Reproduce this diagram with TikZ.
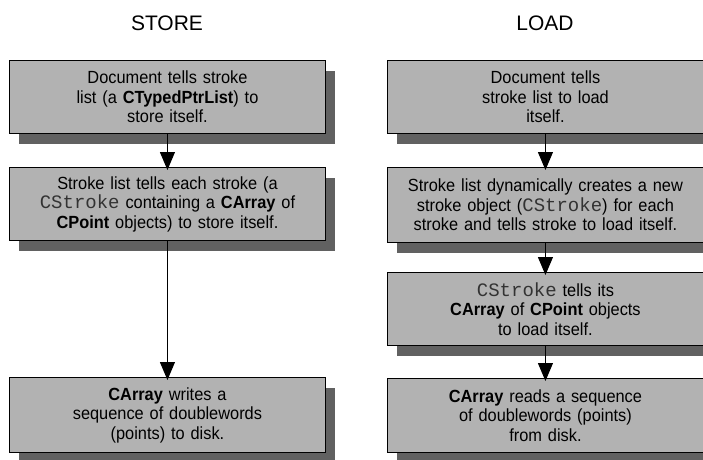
\documentclass[tikz,border=0pt]{standalone}
\usepackage{fontspec}
\setmainfont{Liberation Sans}
\newfontfamily\bodyfont[FakeStretch=0.93]{Liberation Sans}
\newfontfamily\cmono{Liberation Mono}
\usetikzlibrary{arrows.meta,shadows}
\newcommand\cs[1]{{\cmono\fontsize{19}{19.5}\selectfont\color{black!80}#1}}
\begin{document}
\begin{tikzpicture}[x=1pt,y=-1pt,
  stepbox/.style={draw=black,line width=0.9pt,fill=black!30,
    minimum width=316pt,minimum height=73pt,inner sep=0pt,
    text width=306pt,align=center,anchor=north west,
    font=\bodyfont\fontsize{17.6}{19.5}\selectfont,
    general shadow={shadow xshift=10pt,shadow yshift=-11pt,fill=black!62}},
  title/.style={font=\fontsize{21}{25}\selectfont,anchor=base},
  arr/.style={line width=1pt,-{Triangle[length=18pt,width=15pt]},shorten >=-3pt}]
\clip (0,0) rectangle (703,459);
\fill[white] (0,0) rectangle (703,459);
\node[title] (ts) at (167,30) {STORE};
\node[title] (tl) at (545,30) {LOAD};
% store column
\node[stepbox] (L1) at (9,60) {Document tells stroke\\list (a \textbf{CTypedPtrList}) to\\store itself.};
\node[stepbox] (L2) at (9,167) {Stroke list tells each stroke (a\\\cs{CStroke} containing a \textbf{CArray} of\\\textbf{CPoint} objects) to store itself.};
\node[stepbox,minimum height=75pt] (L3) at (9,377) {\textbf{CArray} writes a\\sequence of doublewords\\(points) to disk.};
% load column
\node[stepbox] (R1) at (387,60) {Document tells\\stroke list to load\\itself.};
\node[stepbox,minimum height=75pt] (R2) at (387,167) {Stroke list dynamically creates a new\\stroke object (\cs{CStroke}) for each\\stroke and tells stroke to load itself.};
\node[stepbox] (R3) at (387,272) {\cs{CStroke} tells its\\\textbf{CArray} of \textbf{CPoint} objects\\to load itself.};
\node[stepbox,minimum height=74pt] (R4) at (387,378) {\textbf{CArray} reads a sequence\\of doublewords (points)\\from disk.};
\draw[arr] (L1.south) -- (L2.north);
\draw[arr] (L2.south) -- (L3.north);
\draw[arr] (R1.south) -- (R2.north);
\draw[arr] (R2.south) -- (R3.north);
\draw[arr] (R3.south) -- (R4.north);
\end{tikzpicture}
\end{document}
